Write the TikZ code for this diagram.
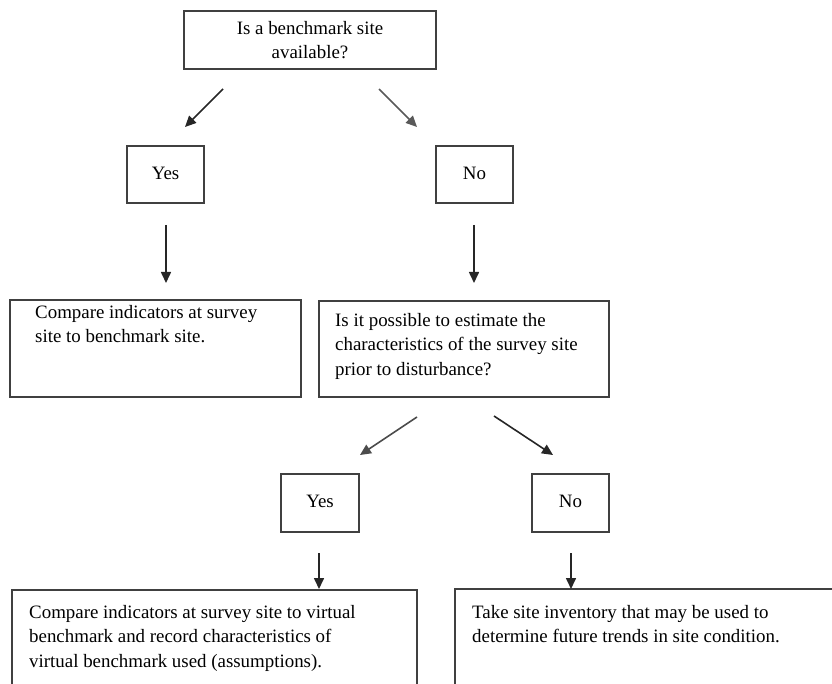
\documentclass[tikz,border=0pt]{standalone}
\usepackage{fontspec}
\setmainfont{Liberation Serif}
\usetikzlibrary{arrows.meta}
\tikzset{
  box/.style={draw=black!75, line width=1.1pt, inner sep=0pt},
  txt/.style={font=\fontsize{18.9}{24.5}\selectfont, inner sep=0pt, align=left, anchor=north west},
  ctxt/.style={font=\fontsize{18.9}{24}\selectfont, align=center},
  conn/.style={draw=black!85, line width=1.6pt, -{Triangle[length=11pt,width=10pt]}}
}
\begin{document}
\begin{tikzpicture}[x=1pt,y=-1pt]
\useasboundingbox (0,0) rectangle (832,684);
\clip (0,0) rectangle (832,684);
% top question
\node[box, ctxt, minimum width=252pt, minimum height=58pt] (q1) at (310,40) {Is a benchmark site\\available?};
% first yes/no
\node[box, ctxt, minimum width=77pt, minimum height=57pt, text depth=0pt] (yes1) at (165.5,174.5) {\raisebox{3pt}{Yes}};
\node[box, ctxt, minimum width=77pt, minimum height=57pt, text depth=0pt] (no1) at (474.5,174.5) {\raisebox{3pt}{No}};
% second row boxes
\node[box, minimum width=291pt, minimum height=97pt] (cmp) at (155.5,348.5) {};
\node[txt] (cmpt) at (35,305) {Compare indicators at survey\\site to benchmark site.};
\node[box, minimum width=290pt, minimum height=96pt] (q2) at (464,349) {};
\node[txt] (q2t) at (335,313) {Is it possible to estimate the\\characteristics of the survey site\\prior to disturbance?};
% second yes/no
\node[box, ctxt, minimum width=78pt, minimum height=58pt, text depth=0pt] (yes2) at (320,503) {\raisebox{3pt}{Yes}};
\node[box, ctxt, minimum width=77pt, minimum height=58pt, text depth=0pt] (no2) at (570.5,503) {\raisebox{3pt}{No}};
% bottom boxes (cut off by the page edge)
\node[box, minimum width=405pt, minimum height=130pt] (virt) at (214.5,655) {};
\node[txt] (virtt) at (29,605) {Compare indicators at survey site to virtual\\benchmark and record characteristics of\\virtual benchmark used (assumptions).};
\node[box, minimum width=415pt, minimum height=130pt] (inv) at (662.5,654) {};
\node[txt] (invt) at (472,605) {Take site inventory that may be used to\\determine future trends in site condition.};
% connector end points
\coordinate (a1s) at (223,89);  \coordinate (a1e) at (185,127);
\coordinate (a2s) at (379,89);  \coordinate (a2e) at (417,127);
\coordinate (a3s) at (166,225); \coordinate (a3e) at (166,283);
\coordinate (a4s) at (474,225); \coordinate (a4e) at (474,283);
\coordinate (a5s) at (417,417); \coordinate (a5e) at (360,455);
\coordinate (a6s) at (494,416); \coordinate (a6e) at (553,455);
\coordinate (a7s) at (319,553); \coordinate (a7e) at (319,589);
\coordinate (a8s) at (571,553); \coordinate (a8e) at (571,589);
\draw[conn] (a1s) -- (a1e);
\draw[conn, draw=black!65] (a2s) -- (a2e);
\draw[conn] (a3s) -- (a3e);
\draw[conn] (a4s) -- (a4e);
\draw[conn, draw=black!70] (a5s) -- (a5e);
\draw[conn] (a6s) -- (a6e);
\draw[conn] (a7s) -- (a7e);
\draw[conn] (a8s) -- (a8e);
\end{tikzpicture}
\end{document}
